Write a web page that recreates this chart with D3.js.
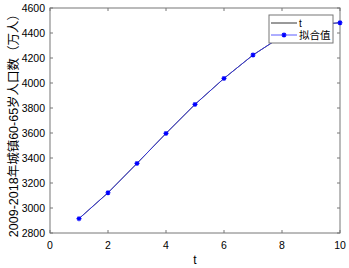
<!DOCTYPE html>
<html>
<head>
<meta charset="utf-8">
<script src="https://cdn.jsdelivr.net/npm/d3@7"></script>
<style>
  body { margin: 0; background: #fff; }
  text { font-family: "Liberation Sans", Arial, sans-serif; }
</style>
</head>
<body>
<div id="chart"></div>
<script>
// data
var tValues = [1, 2, 3, 4, 5, 6, 7, 8, 9, 10];
var actual  = [2915, 3122, 3357, 3597, 3829, 4037, 4224, 4375, 4465, 4482];
var fitted  = [2915, 3122, 3357, 3597, 3829, 4037, 4224, 4375, 4465, 4482];
var xTicks = [0, 2, 4, 6, 8, 10];
var yTicks = [2800, 3000, 3200, 3400, 3600, 3800, 4000, 4200, 4400, 4600];
var legendLabels = ["t", "拟合值"];
var yLabel = "2009-2018年城镇60-65岁人口数（万人）";
var xLabel = "t";

var width = 349, height = 268;
var margins = {top: 8, right: 9, bottom: 35, left: 50};

var svg = d3.select("#chart").append("svg")
    .attr("width", width)
    .attr("height", height);

var x = d3.scaleLinear().domain([0, 10]).range([margins.left, width - margins.right]);
var y = d3.scaleLinear().domain([2800, 4600]).range([height - margins.bottom, margins.top]);

var axisColor = "#777";

// box
svg.append("rect")
    .attr("x", x(0)).attr("y", y(4600))
    .attr("width", x(10) - x(0)).attr("height", y(2800) - y(4600))
    .attr("fill", "none").attr("stroke", axisColor).attr("stroke-width", 1);

// ticks (inward, all four sides)
var tl = 3;
xTicks.forEach(function(d) {
    svg.append("line").attr("x1", x(d)).attr("x2", x(d))
        .attr("y1", y(2800)).attr("y2", y(2800) - tl).attr("stroke", axisColor);
    svg.append("line").attr("x1", x(d)).attr("x2", x(d))
        .attr("y1", y(4600)).attr("y2", y(4600) + tl).attr("stroke", axisColor);
});
yTicks.forEach(function(d) {
    svg.append("line").attr("x1", x(0)).attr("x2", x(0) + tl)
        .attr("y1", y(d)).attr("y2", y(d)).attr("stroke", axisColor);
    svg.append("line").attr("x1", x(10)).attr("x2", x(10) - tl)
        .attr("y1", y(d)).attr("y2", y(d)).attr("stroke", axisColor);
});

// tick labels
svg.selectAll("text.xt")
    .data(xTicks).enter()
    .append("text").attr("class", "xt")
    .attr("x", function(d) { return x(d); })
    .attr("y", y(2800) + 16)
    .attr("text-anchor", "middle")
    .attr("font-size", "10.5px")
    .attr("fill", "#000")
    .text(function(d) { return d; });

svg.selectAll("text.yt")
    .data(yTicks).enter()
    .append("text").attr("class", "yt")
    .attr("x", x(0) - 5)
    .attr("y", function(d) { return y(d) + 4; })
    .attr("text-anchor", "end")
    .attr("font-size", "10.5px")
    .attr("fill", "#000")
    .text(function(d) { return d; });

// axis labels
svg.append("text")
    .attr("x", (x(0) + x(10)) / 2)
    .attr("y", 264)
    .attr("text-anchor", "middle")
    .attr("font-size", "12px")
    .attr("fill", "#000")
    .text(xLabel);

svg.append("text")
    .attr("transform", "translate(17.5," + ((y(2800) + y(4600)) / 2 + 2) + ") rotate(-90)")
    .attr("text-anchor", "middle")
    .attr("font-size", "12.5px")
    .attr("fill", "#000")
    .style("font-family", "'Liberation Sans', 'Noto Sans CJK SC', sans-serif")
    .text(yLabel);

// lines
var lineActual = d3.line()
    .x(function(d, i) { return x(tValues[i]); })
    .y(function(d) { return y(d); });

svg.append("path")
    .datum(actual)
    .attr("d", lineActual)
    .attr("fill", "none")
    .attr("stroke", "#000")
    .attr("stroke-width", 0.8);

svg.append("path")
    .datum(fitted)
    .attr("d", lineActual)
    .attr("fill", "none")
    .attr("stroke", "#3333ff")
    .attr("stroke-width", 0.8);

// asterisk markers
function star(g, cx, cy, r) {
    var p = "M" + (cx - r) + "," + cy + "H" + (cx + r) +
            "M" + cx + "," + (cy - r) + "V" + (cy + r) +
            "M" + (cx - r * 0.7) + "," + (cy - r * 0.7) + "L" + (cx + r * 0.7) + "," + (cy + r * 0.7) +
            "M" + (cx - r * 0.7) + "," + (cy + r * 0.7) + "L" + (cx + r * 0.7) + "," + (cy - r * 0.7);
    g.append("path").attr("d", p).attr("stroke", "#0000ff").attr("stroke-width", 1.2).attr("fill", "none");
}
fitted.forEach(function(d, i) {
    star(svg, x(tValues[i]), y(d), 2.5);
});

// legend
var lx = 269, ly = 15, lw = 64, lh = 28;
svg.append("rect")
    .attr("x", lx).attr("y", ly).attr("width", lw).attr("height", lh)
    .attr("fill", "#fff").attr("stroke", axisColor).attr("stroke-width", 1);

svg.append("line")
    .attr("x1", lx + 2).attr("x2", lx + 28)
    .attr("y1", ly + 8).attr("y2", ly + 8)
    .attr("stroke", "#000").attr("stroke-width", 0.8);
svg.append("text")
    .attr("x", lx + 30).attr("y", ly + 11.5)
    .attr("font-size", "10px").attr("fill", "#000")
    .text(legendLabels[0]);

svg.append("line")
    .attr("x1", lx + 2).attr("x2", lx + 28)
    .attr("y1", ly + 20).attr("y2", ly + 20)
    .attr("stroke", "#3333ff").attr("stroke-width", 0.8);
star(svg, lx + 15, ly + 20, 2.5);
svg.append("text")
    .attr("x", lx + 30).attr("y", ly + 24)
    .attr("font-size", "10.5px").attr("fill", "#000")
    .style("font-family", "'Noto Sans CJK SC', sans-serif")
    .text(legendLabels[1]);
</script>
</body>
</html>
